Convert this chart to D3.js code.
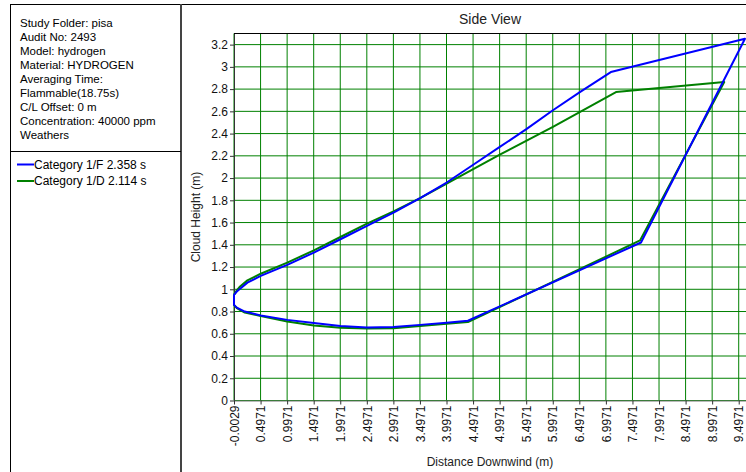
<!DOCTYPE html>
<html>
<head>
<meta charset="utf-8">
<script src="https://cdn.jsdelivr.net/npm/d3@7/dist/d3.min.js"></script>
<style>
  html, body { margin: 0; padding: 0; background: #fff; }
  svg { display: block; font-family: "Liberation Sans", Arial, sans-serif; }
</style>
</head>
<body>
<svg id="chart" width="746" height="472"></svg>
<script>
// Study details shown in the side panel
const infoLines = [
  "Study Folder: pisa",
  "Audit No: 2493",
  "Model: hydrogen",
  "Material: HYDROGEN",
  "Averaging Time:",
  "Flammable(18.75s)",
  "C/L Offset: 0 m",
  "Concentration: 40000 ppm",
  "Weathers"
];

// Weather categories (legend entries) and their line colours
const seriesNames = ["Category 1/F 2.358 s", "Category 1/D 2.114 s"];
const seriesColors = ["#0000ff", "#008000"];

// Cloud outline, Category 1/F: distance downwind (m) / cloud height (m)
const cat1FX = [-0.0029, 0.05, 0.1, 0.25, 0.5, 1.0, 1.5, 2.0, 2.5, 3.0, 3.5, 4.0, 4.5, 5.0, 5.5, 6.0, 6.5, 7.09, 9.615,
                7.658, 4.4, 4.0, 3.5, 3.0, 2.5, 2.0, 1.5, 1.0, 0.5, 0.2, 0.05, -0.0029, -0.0029];
const cat1FY = [0.95, 0.98, 1.0, 1.06, 1.12, 1.22, 1.33, 1.45, 1.57, 1.69, 1.82, 1.96, 2.12, 2.28, 2.44, 2.61, 2.77, 2.953, 3.253,
                1.421, 0.717, 0.70, 0.68, 0.66, 0.657, 0.669, 0.696, 0.725, 0.765, 0.80, 0.835, 0.86, 0.95];

// Cloud outline, Category 1/D
const cat1DX = [-0.0029, 0.05, 0.1, 0.25, 0.5, 1.0, 1.5, 2.0, 2.5, 3.0, 3.5, 4.0, 5.0, 6.0, 7.187, 9.225,
                7.64, 4.4, 4.0, 3.5, 3.0, 2.5, 2.0, 1.5, 1.0, 0.5, 0.2, 0.05, -0.0029, -0.0029];
const cat1DY = [0.95, 0.99, 1.02, 1.08, 1.14, 1.24, 1.35, 1.47, 1.59, 1.70, 1.82, 1.95, 2.21, 2.46, 2.773, 2.863,
                1.439, 0.705, 0.69, 0.67, 0.65, 0.648, 0.654, 0.675, 0.71, 0.76, 0.79, 0.83, 0.86, 0.95];

// Axis ticks
const xTicks = [-0.0029, 0.4971, 0.9971, 1.4971, 1.9971, 2.4971, 2.9971, 3.4971, 3.9971, 4.4971,
                4.9971, 5.4971, 5.9971, 6.4971, 6.9971, 7.4971, 7.9971, 8.4971, 8.9971, 9.4971];
const yTicks = [0, 0.2, 0.4, 0.6, 0.8, 1, 1.2, 1.4, 1.6, 1.8, 2, 2.2, 2.4, 2.6, 2.8, 3, 3.2];

const xDomain = [-0.0029, 9.64];
const yDomain = [0, 3.3];

const svg = d3.select("#chart");
const W = 746, H = 472;
const plot = { left: 234, right: 746.3, top: 33.5, bottom: 400.5 };

const x = d3.scaleLinear().domain(xDomain).range([plot.left, plot.right]);
const y = d3.scaleLinear().domain(yDomain).range([plot.bottom, plot.top]);

// ---- outer frame and side panel ----
const frame = svg.append("g");
frame.append("line").attr("x1", 10).attr("x2", W).attr("y1", 4.5).attr("y2", 4.5)
  .attr("stroke", "#000").attr("stroke-width", 1);
frame.append("line").attr("x1", 10.5).attr("x2", 10.5).attr("y1", 4).attr("y2", H)
  .attr("stroke", "#000").attr("stroke-width", 1);
frame.append("line").attr("x1", 181).attr("x2", 181).attr("y1", 4).attr("y2", H)
  .attr("stroke", "#444").attr("stroke-width", 2);
frame.append("line").attr("x1", 10).attr("x2", 181).attr("y1", 151.5).attr("y2", 151.5)
  .attr("stroke", "#000").attr("stroke-width", 1);

const info = svg.append("g").attr("font-size", 11.5).attr("fill", "#000");
info.selectAll("text").data(infoLines).join("text")
  .attr("x", 20)
  .attr("y", (d, i) => 27 + i * 14)
  .text(d => d);

const legend = svg.append("g").attr("font-size", 12);
const legendItems = legend.selectAll("g").data(seriesNames).join("g")
  .attr("transform", (d, i) => `translate(0, ${164 + i * 16.5})`);
legendItems.append("line")
  .attr("x1", 17).attr("x2", 34).attr("y1", 0.5).attr("y2", 0.5)
  .attr("stroke", (d, i) => seriesColors[i]).attr("stroke-width", 2);
legendItems.append("text")
  .attr("x", 34).attr("y", 4.5)
  .attr("fill", "#000")
  .text(d => d);

// ---- chart title and axis titles ----
svg.append("text")
  .attr("x", (plot.left + W) / 2).attr("y", 24)
  .attr("text-anchor", "middle").attr("font-size", 14).attr("fill", "#222")
  .text("Side View");

svg.append("text")
  .attr("transform", `translate(200, ${(plot.top + plot.bottom) / 2}) rotate(-90)`)
  .attr("text-anchor", "middle").attr("font-size", 12).attr("fill", "#222")
  .text("Cloud Height (m)");

svg.append("text")
  .attr("x", (plot.left + W) / 2).attr("y", 466)
  .attr("text-anchor", "middle").attr("font-size", 12).attr("fill", "#222")
  .text("Distance Downwind (m)");

// ---- grid ----
const grid = svg.append("g").attr("stroke", "#008000").attr("stroke-width", 1);
grid.selectAll("line.gx").data(xTicks).join("line").attr("class", "gx")
  .attr("x1", d => x(d)).attr("x2", d => x(d))
  .attr("y1", plot.top).attr("y2", plot.bottom);
grid.selectAll("line.gy").data(yTicks).join("line").attr("class", "gy")
  .attr("x1", plot.left).attr("x2", W)
  .attr("y1", d => y(d)).attr("y2", d => y(d));

// ---- axes ----
const yAxis = svg.append("g")
  .attr("transform", `translate(${plot.left},0)`)
  .call(d3.axisLeft(y).tickValues(yTicks).tickSize(4).tickSizeOuter(0).tickFormat(d => String(d)));
yAxis.select(".domain").attr("stroke", "#333");
yAxis.selectAll(".tick line").attr("stroke", "#333");
yAxis.selectAll(".tick text").attr("font-size", 12).attr("fill", "#111")
  .attr("font-family", "Liberation Sans, Arial, sans-serif").attr("x", -6);

const xAxis = svg.append("g")
  .attr("transform", `translate(0,${plot.bottom})`)
  .call(d3.axisBottom(x).tickValues(xTicks).tickSize(4).tickSizeOuter(0).tickFormat(d => String(d)));
xAxis.select(".domain").attr("stroke", "#777");
xAxis.selectAll(".tick line").attr("stroke", "#333");
xAxis.selectAll(".tick text")
  .attr("font-size", 12).attr("fill", "#111")
  .attr("font-family", "Liberation Sans, Arial, sans-serif")
  .attr("transform", "rotate(-90)")
  .attr("text-anchor", "end")
  .attr("x", -5).attr("y", 0).attr("dy", "0.35em");

// top border of the plot area
svg.append("line")
  .attr("x1", plot.left).attr("x2", W).attr("y1", plot.top).attr("y2", plot.top)
  .attr("stroke", "#000").attr("stroke-width", 1);

// ---- cloud outlines ----
const line = d3.line().x(d => x(d[0])).y(d => y(d[1]));
const series = [
  d3.zip(cat1DX, cat1DY),
  d3.zip(cat1FX, cat1FY)
];
const colorsDrawn = [seriesColors[1], seriesColors[0]];
svg.append("g").selectAll("path").data(series).join("path")
  .attr("d", line)
  .attr("fill", "none")
  .attr("stroke", (d, i) => colorsDrawn[i])
  .attr("stroke-width", 2)
  .attr("stroke-linejoin", "round");
</script>
</body>
</html>
